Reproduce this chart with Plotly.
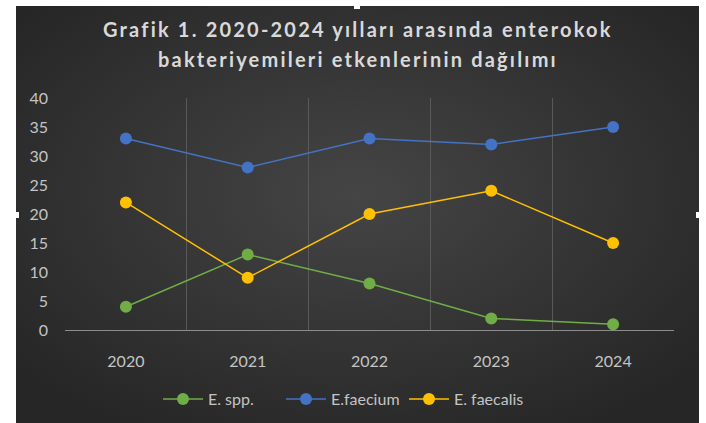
import plotly.graph_objects as go

years = ["2020", "2021", "2022", "2023", "2024"]
e_spp = [4, 13, 8, 2, 1]
e_faecium = [33, 28, 33, 32, 35]
e_faecalis = [22, 9, 20, 24, 15]
y_ticks = [0, 5, 10, 15, 20, 25, 30, 35, 40]
title_lines = ["Grafik 1. 2020-2024 yılları arasında enterokok",
               "bakteriyemileri etkenlerinin dağılımı"]

W, H = 706, 423
L, R, T, B = 65, 32, 98, 93
pw, ph = W - L - R, H - T - B

def px_x(p):
    return (p - L) / pw

def px_y(p):
    return (H - B - p) / ph

xs = list(range(len(years)))

fig = go.Figure()
series = [("E. spp.", e_spp, "#70AD47"), ("E.faecium", e_faecium, "#4472C4"), ("E. faecalis", e_faecalis, "#FFC000")]
for name, vals, col in series:
    fig.add_trace(go.Scatter(x=xs, y=vals, name=name, mode="lines+markers",
                             line=dict(color=col, width=1.5),
                             marker=dict(color=col, size=12)))

svg = ("data:image/svg+xml;utf8,"
       "<svg xmlns='http://www.w3.org/2000/svg' width='683' height='417' preserveAspectRatio='none'>"
       "<defs><radialGradient id='g' cx='50%25' cy='45%25' r='65%25'>"
       "<stop offset='0' stop-color='%23454545'/><stop offset='1' stop-color='%23262626'/>"
       "</radialGradient></defs><rect width='683' height='417' fill='url(%23g)'/></svg>")

x0, x1, y0, y1 = 16, 699, 6, 423
fig.add_layout_image(dict(source=svg, xref="paper", yref="paper",
                          x=px_x(x0), y=px_y(y0), sizex=px_x(x1) - px_x(x0), sizey=px_y(y0) - px_y(y1),
                          xanchor="left", yanchor="top", sizing="stretch", layer="below"))

# selection handles
for hx, hy in [(357, 6), (16, 215), (699, 215)]:
    fig.add_shape(type="rect", xref="paper", yref="paper",
                  x0=px_x(hx - 3), x1=px_x(hx + 3), y0=px_y(hy - 3), y1=px_y(hy + 3),
                  fillcolor="white", line=dict(width=0), layer="above")

# title, two lines
for line, ypx in zip(title_lines, [29, 59]):
    fig.add_annotation(text="<span style=\"letter-spacing: 2.2px\">" + line + "</span>",
                       xref="paper", yref="paper", x=px_x(358), y=px_y(ypx),
                       xanchor="center", yanchor="middle", showarrow=False,
                       font=dict(family="Lato", size=20, color="#d9d9d9", weight="bold"))

fig.update_layout(
    width=W, height=H,
    margin=dict(l=L, r=R, t=T, b=B, autoexpand=False),
    paper_bgcolor="white", plot_bgcolor="rgba(0,0,0,0)",
    font=dict(family="Lato", color="#c4c4c4", size=16),
    showlegend=True,
    legend=dict(orientation="h", x=px_x(158), xanchor="left", y=px_y(399), yanchor="middle",
                font=dict(size=16, color="#c4c4c4"), bgcolor="rgba(0,0,0,0)",
                itemwidth=40, entrywidth=68),
    xaxis=dict(range=[-0.5, 4.5], tickvals=xs, ticktext=years, showgrid=False,
               zeroline=False, showline=True, linecolor="#8c8c8c", linewidth=1,
               ticks="", ticklabelstandoff=17,
               minor=dict(tickmode="linear", tick0=-0.5, dtick=1, showgrid=True,
                          gridcolor="#595959", gridwidth=1)),
    yaxis=dict(range=[0, 40], tickvals=y_ticks, showgrid=False, zeroline=False,
               showline=False, ticks="", ticklabelstandoff=16),
)

fig.write_html("out.html")
